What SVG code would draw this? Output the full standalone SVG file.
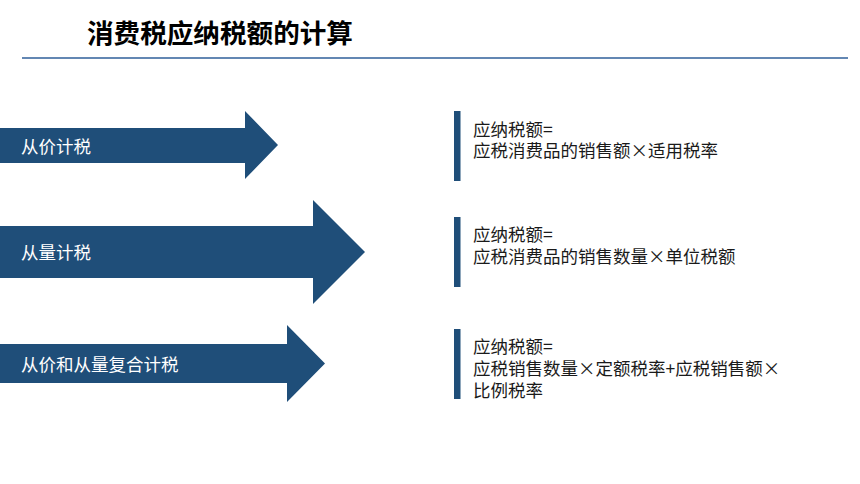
<svg xmlns="http://www.w3.org/2000/svg" width="860" height="484" viewBox="0 0 860 484">
<style>
.arrow{fill:#1F4E79;}
.bar{fill:#1F4E79;}
.lbl{font-family:"Noto Sans CJK SC","Noto Sans",sans-serif;font-size:17.5px;fill:#FFFFFF;}
.txt{font-family:"Noto Sans CJK SC","Noto Sans",sans-serif;font-size:17.5px;fill:#1A1A1A;}
.title{font-family:"Noto Sans CJK SC","Noto Sans",sans-serif;font-size:26.6px;font-weight:bold;fill:#000000;}
</style>
<rect width="860" height="484" fill="#FFFFFF"/>
<g id="title">
<text class="title" x="87" y="42.5">消费税应纳税额的计算</text>
<line x1="22" y1="58" x2="848" y2="58" stroke="#2F5F9A" stroke-width="1.6"/>
</g>
<g id="arrow1">
<polygon class="arrow" points="0,128 245,128 245,111 278,145 245,179 245,163 0,163"/>
<text class="lbl" x="21" y="152.5">从价计税</text>
</g>
<g id="arrow2">
<polygon class="arrow" points="0,226 313,226 313,200 365,252 313,304 313,278 0,278"/>
<text class="lbl" x="21" y="258.5">从量计税</text>
</g>
<g id="arrow3">
<polygon class="arrow" points="0,344 287,344 287,325 325,363.5 287,402 287,383 0,383"/>
<text class="lbl" x="21" y="370.5">从价和从量复合计税</text>
</g>
<g id="formula1">
<rect class="bar" x="454" y="111" width="6.5" height="70"/>
<text class="txt" x="473" y="135.5">应纳税额=<tspan x="473" dy="21.5">应税消费品的销售额×适用税率</tspan></text>
</g>
<g id="formula2">
<rect class="bar" x="454" y="217" width="6.5" height="70"/>
<text class="txt" x="473" y="240.5">应纳税额=<tspan x="473" dy="22.5">应税消费品的销售数量×单位税额</tspan></text>
</g>
<g id="formula3">
<rect class="bar" x="454" y="329" width="6.5" height="70"/>
<text class="txt" x="473" y="352.5">应纳税额=<tspan x="473" dy="22.5">应税销售数量×定额税率+应税销售额×</tspan><tspan x="473" dy="21.5">比例税率</tspan></text>
</g>
<g id="connectors"/>
</svg>
